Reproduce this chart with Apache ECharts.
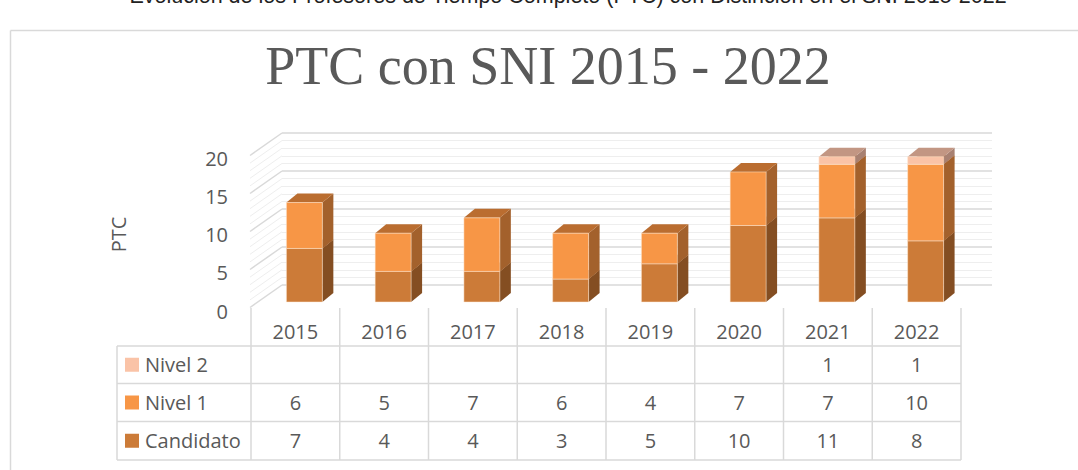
<!DOCTYPE html>
<html>
<head>
<meta charset="utf-8">
<title>PTC con SNI 2015 - 2022</title>
<style>
  html, body { margin: 0; padding: 0; background: #fff; }
  #chart { width: 1078px; height: 470px; }
</style>
<script src="https://cdn.jsdelivr.net/npm/echarts@6/dist/echarts.min.js"></script>
</head>
<body>
<div id="chart"></div>
<script>
// datos
var years = ['2015', '2016', '2017', '2018', '2019', '2020', '2021', '2022'];
var candidato = [7, 4, 4, 3, 5, 10, 11, 8];
var nivel1 = [6, 5, 7, 6, 4, 7, 7, 10];
var nivel2 = [null, null, null, null, null, null, 1, 1];
var yTicks = [0, 5, 10, 15, 20];

var chart = echarts.init(document.getElementById('chart'), null, { renderer: 'svg' });

var grey = '#595959';
var lineGrey = '#D9D9D9';
var font = 'Open Sans';

// colores: frente, lado, tapa
var faces = {
    'Candidato': ['#CC7B38', '#844E22', '#A8642C'],
    'Nivel 1': ['#F79646', '#A3612C', '#BA6D30'],
    'Nivel 2': ['#FAC3A7', '#A88172', '#C29683']
};
var depthX = 11, depthY = -9;

// barras apiladas: [indice, base, tope]
function stack(values, below) {
    return values.map(function(v, i) {
        if (v == null) return [i, null, null];
        var base = 0;
        below.forEach(function(b) { base += b[i] || 0; });
        return [i, base, base + v];
    });
}

function box(name) {
    return function(params, api) {
        var lo = api.value(1), hi = api.value(2);
        if (isNaN(lo) || isNaN(hi)) return;
        var i = api.value(0);
        var p0 = api.coord([i, lo]);
        var p1 = api.coord([i, hi]);
        var w = api.size([1, 0])[0] * 0.405;
        var x0 = p0[0] - w / 2, x1 = p0[0] + w / 2;
        var yb = p0[1], yt = p1[1];
        var c = faces[name];
        return {
            type: 'group',
            children: [{
                type: 'polygon',
                shape: { points: [[x1, yb], [x1 + depthX, yb + depthY], [x1 + depthX, yt + depthY], [x1, yt]] },
                style: { fill: c[1] }
            }, {
                type: 'polygon',
                shape: { points: [[x0, yt], [x1, yt], [x1 + depthX, yt + depthY], [x0 + depthX, yt + depthY]] },
                style: { fill: c[2] }
            }, {
                type: 'rect',
                shape: { x: x0, y: yt, width: w, height: yb - yt },
                style: { fill: c[0], stroke: 'rgba(255,235,215,0.5)', lineWidth: 1 }
            }]
        };
    };
}

var option = {
    animation: false,
    grid: [
        // caras frontales de las barras
        { left: 260, right: 108, top: 149, bottom: 168 },
        // pared del fondo
        { left: 282, right: 86, top: 133, bottom: 185 },
        // etiquetas del eje
        { left: 250, right: 120, top: 158, bottom: 159 }
    ],
    xAxis: [
        { gridIndex: 0, type: 'category', data: years, show: false },
        { gridIndex: 1, type: 'value', min: 0, max: 1, show: false },
        { gridIndex: 2, type: 'value', min: 0, max: 1, show: false }
    ],
    yAxis: [
        { gridIndex: 0, type: 'value', min: 0, max: 20, show: false },
        {
            gridIndex: 1, type: 'value', min: 0, max: 20, interval: 5,
            axisLine: { show: false }, axisTick: { show: false }, axisLabel: { show: false },
            splitLine: { lineStyle: { color: lineGrey, width: 1.5 } },
            minorTick: { show: false, splitNumber: 5 },
            minorSplitLine: { show: true, lineStyle: { color: '#EEEEEE', width: 1 } }
        },
        {
            gridIndex: 2, type: 'value', min: 0, max: 20, interval: 5,
            name: 'PTC', nameLocation: 'middle', nameGap: 122,
            nameTextStyle: { color: grey, fontFamily: font, fontSize: 20 },
            axisLine: { show: false }, axisTick: { show: false }, splitLine: { show: false },
            axisLabel: { color: grey, fontFamily: font, fontSize: 20, margin: 22 }
        }
    ],
    series: [{
        name: 'Candidato', type: 'custom', xAxisIndex: 0, yAxisIndex: 0,
        renderItem: box('Candidato'), encode: { x: 0, y: [1, 2] },
        data: stack(candidato, [])
    }, {
        name: 'Nivel 1', type: 'custom', xAxisIndex: 0, yAxisIndex: 0,
        renderItem: box('Nivel 1'), encode: { x: 0, y: [1, 2] },
        data: stack(nivel1, [candidato])
    }, {
        name: 'Nivel 2', type: 'custom', xAxisIndex: 0, yAxisIndex: 0,
        renderItem: box('Nivel 2'), encode: { x: 0, y: [1, 2] },
        data: stack(nivel2, [candidato, nivel1])
    }]
};
chart.setOption(option);

// pared lateral, marco, titulos y tabla de datos
var g = [];
function line(x1, y1, x2, y2, color, width) {
    g.push({ type: 'line', silent: true, z: 1,
        shape: { x1: x1, y1: y1, x2: x2, y2: y2 },
        style: { stroke: color, lineWidth: width } });
}
function text(str, x, y, opts) {
    g.push({ type: 'text', silent: true, x: x, y: y, z: 5,
        style: Object.assign({ text: str, fill: grey, font: '20px "Open Sans"', align: 'center', verticalAlign: 'middle' }, opts || {}) });
}

for (var v = 0; v <= 20; v++) {
    var back = chart.convertToPixel({ xAxisIndex: 1, yAxisIndex: 1 }, [0, v]);
    var major = v % 5 === 0;
    line(back[0] - 32, back[1] + 22.5, back[0], back[1], major ? lineGrey : '#EEEEEE', major ? 1.5 : 1);
}

// marco
line(10.5, 30.5, 1078, 30.5, lineGrey, 1.5);
line(10.5, 30.5, 10.5, 470, lineGrey, 1.5);

// titulo superior, recortado por el borde como en el original
text('Evolución de los Profesores de Tiempo Completo (PTC) con Distinción en el SNI 2015-2022', 568, -4,
    { font: '21.5px "Liberation Sans Narrow", "Liberation Sans"', fill: '#222' });
text('PTC con SNI 2015 - 2022', 548, 66, { font: '54px "Liberation Serif"' });

// tabla
var colLeft = 251, colW = 88.75, legendLeft = 117;
var rowLines = [346, 383.5, 421.5, 460];
var tableRows = [
    { name: 'Nivel 2', values: nivel2 },
    { name: 'Nivel 1', values: nivel1 },
    { name: 'Candidato', values: candidato }
];
var tableRight = colLeft + colW * years.length;
for (var k = 0; k <= years.length; k++) {
    line(colLeft + k * colW, 308, colLeft + k * colW, rowLines[3], lineGrey, 1.5);
}
line(legendLeft, rowLines[0], legendLeft, rowLines[3], lineGrey, 1.5);
rowLines.forEach(function(y) { line(legendLeft, y, tableRight, y, lineGrey, 1.5); });

years.forEach(function(yr, k) {
    text(yr, colLeft + (k + 0.5) * colW, 331);
});
tableRows.forEach(function(row, r) {
    var cy = (rowLines[r] + rowLines[r + 1]) / 2;
    g.push({ type: 'rect', silent: true, z: 5,
        shape: { x: 125, y: cy - 7, width: 14, height: 14 },
        style: { fill: faces[row.name][0] } });
    text(row.name, 145, cy, { align: 'left' });
    row.values.forEach(function(val, k) {
        if (val != null) text(String(val), colLeft + (k + 0.5) * colW, cy);
    });
});

chart.setOption({ graphic: g });
</script>
</body>
</html>
